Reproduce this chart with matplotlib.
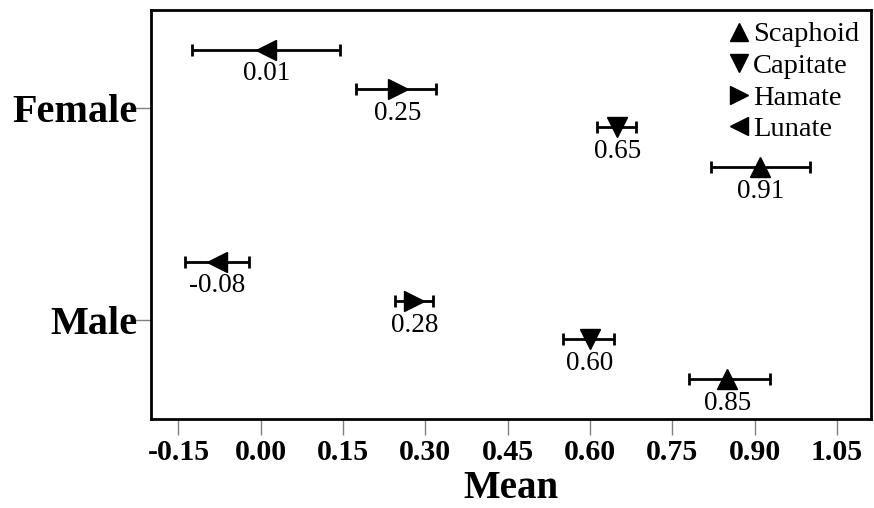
import numpy as np
import matplotlib
matplotlib.use("Agg")
import matplotlib.pyplot as plt
from matplotlib.lines import Line2D

plt.rcParams["font.family"] = ["Liberation Serif", "DejaVu Serif"]

# --- dane ---
groups = ["Male", "Female"]
bones = ["Scaphoid", "Capitate", "Hamate", "Lunate"]
markers = ["^", "v", ">", "<"]
offsets = [-0.28, -0.09, 0.09, 0.275]   # przesunięcie w pionie w obrębie grupy

female_mean = [0.91, 0.65, 0.25, 0.01]
female_lo = [0.82, 0.613, 0.174, -0.125]
female_hi = [1.00, 0.683, 0.32, 0.145]

male_mean = [0.85, 0.60, 0.28, -0.08]
male_lo = [0.78, 0.551, 0.245, -0.139]
male_hi = [0.927, 0.643, 0.313, -0.022]

xticks = [-0.15, 0.00, 0.15, 0.30, 0.45, 0.60, 0.75, 0.90, 1.05]

series = {
    "Male": (male_mean, male_lo, male_hi),
    "Female": (female_mean, female_lo, female_hi),
}

fig = plt.figure(figsize=(8.74, 5.08), dpi=100)
ax = fig.add_axes([0.1728, 0.175, 0.8238, 0.805])

for gi, g in enumerate(groups):
    mean, lo, hi = series[g]
    for b in range(len(bones)):
        y = gi + offsets[b]
        err = [[mean[b] - lo[b]], [hi[b] - mean[b]]]
        ax.errorbar(mean[b], y, xerr=err, fmt=markers[b], color="black",
                    ms=14, elinewidth=2, capsize=4.5, capthick=2)
        ax.annotate(f"{mean[b]:.2f}", (mean[b], y), xytext=(0, -22),
                    textcoords="offset points", ha="center", va="baseline",
                    fontsize=19.5)

ax.set_xlim(-0.2, 1.112)
ax.set_ylim(-0.467, 1.462)
ax.set_xticks(xticks)
ax.set_xticklabels([f"{t:.2f}" for t in xticks], fontsize=21.5, fontweight="bold")
ax.set_yticks(range(len(groups)))
ax.set_yticklabels(groups, fontsize=29, fontweight="bold")
ax.tick_params(axis="x", length=11.5, width=1, color="#808080", pad=3)
ax.tick_params(axis="y", length=15, width=1, color="#808080", pad=-5)
ax.set_xlabel("Mean", fontsize=28, fontweight="bold", labelpad=3)

for s in ax.spines.values():
    s.set_linewidth(2)

handles = [Line2D([], [], marker=m, color="black", ls="none", ms=13) for m in markers]
ax.legend(handles, bones, loc="upper right", frameon=False, fontsize=20.5,
          handlelength=0.7, handletextpad=0.15, labelspacing=0.2,
          borderaxespad=0.0, bbox_to_anchor=(0.999, 1.0))

fig.savefig("out.png", dpi=100)
